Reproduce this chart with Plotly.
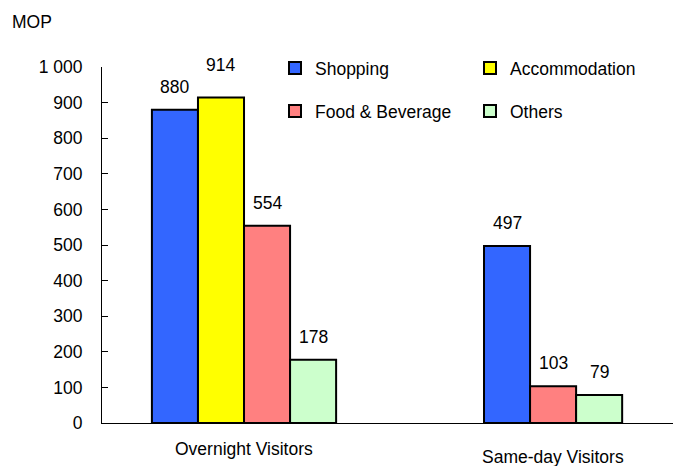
import plotly.graph_objects as go

categories = ["Overnight Visitors", "Same-day Visitors"]
series_names = ["Shopping", "Accommodation", "Food & Beverage", "Others"]
series_colors = ["#3366FF", "#FFFF00", "#FF8080", "#CCFFCC"]
shopping = [880, 497]
accommodation = [914, None]
food_beverage = [554, 103]
others = [178, 79]
y_ticks = [0, 100, 200, 300, 400, 500, 600, 700, 800, 900, 1000]
y_tick_labels = ["0", "100", "200", "300", "400", "500", "600", "700", "800", "900", "1 000"]

series_values = [shopping, accommodation, food_beverage, others]
FONT = "Liberation Sans, Arial, sans-serif"
FS = 17.5
BAR_W = 0.149
label_shift = {(1, 0): 33}   # (series index, category index) -> label offset in px
cat_label_shift = [-26, -34]

W, H = 677, 466
ml, mr, mt, mb = 102, 4, 67, 43
pw, ph = W - ml - mr, H - mt - mb


def px_x(p):
    return (p - ml) / pw


def px_y(p):
    return (H - mb - p) / ph


# legend placement (pixel positions of legend left edge / row centre)
legend_pos = [(275, 68), (470, 68), (275, 111), (470, 111)]
legend_ids = ["legend", "legend2", "legend3", "legend4"]

fig = go.Figure()
annotations = []
for s, (name, color, vals) in enumerate(zip(series_names, series_colors, series_values)):
    xs, ys = [], []
    for i in range(len(categories)):
        if vals[i] is None:
            continue
        present = [k for k in range(len(series_values)) if series_values[k][i] is not None]
        n = len(present)
        k = present.index(s)
        x = i + (k - (n - 1) / 2) * BAR_W
        xs.append(x)
        ys.append(vals[i])
        annotations.append(dict(x=x, y=vals[i], xref="x", yref="y", text=str(vals[i]),
                                showarrow=False, yshift=label_shift.get((s, i), 23),
                                font=dict(family=FONT, size=FS, color="#000")))
    fig.add_trace(go.Bar(
        x=xs, y=ys, name=name, width=BAR_W, showlegend=True,
        marker=dict(color=color, line=dict(color="#000", width=2)),
        legend=legend_ids[s],
    ))

for i, c in enumerate(categories):
    annotations.append(dict(x=i, y=0, xref="x", yref="y", text=c, showarrow=False,
                            yshift=cat_label_shift[i], font=dict(family=FONT, size=FS, color="#000")))
annotations.append(dict(x=px_x(32), y=px_y(22), xref="paper", yref="paper", text="MOP",
                        showarrow=False, xanchor="center", yanchor="middle",
                        font=dict(family=FONT, size=FS, color="#000")))

legend_layout = {}
for lid, (lx, ly) in zip(legend_ids, legend_pos):
    legend_layout[lid] = dict(orientation="h", font=dict(family=FONT, size=FS, color="#000"),
                              bgcolor="rgba(0,0,0,0)", xanchor="left", yanchor="middle",
                              x=px_x(lx), y=px_y(ly), itemclick=False, visible=True)

fig.update_layout(
    width=W, height=H,
    margin=dict(l=ml, r=mr, t=mt, b=mb),
    plot_bgcolor="white", paper_bgcolor="white",
    barmode="overlay",
    showlegend=True,
    font=dict(family=FONT, size=FS, color="#000"),
    annotations=annotations,
    xaxis=dict(range=[-0.4595, 1.388], showticklabels=False, ticks="", showline=True,
               linecolor="#000", linewidth=1, showgrid=False, zeroline=False, fixedrange=True),
    yaxis=dict(range=[0, 1000], tickvals=y_ticks, ticktext=y_tick_labels, ticks="inside",
               ticklen=6, tickcolor="#000", showline=True, linecolor="#000", linewidth=1,
               showgrid=False, zeroline=False, tickfont=dict(family=FONT, size=FS, color="#000"),
               ticklabelstandoff=15, fixedrange=True),
    **legend_layout,
)
fig.write_html("out.html", config={"displayModeBar": False},
               post_script="document.body.style.margin='0';")
